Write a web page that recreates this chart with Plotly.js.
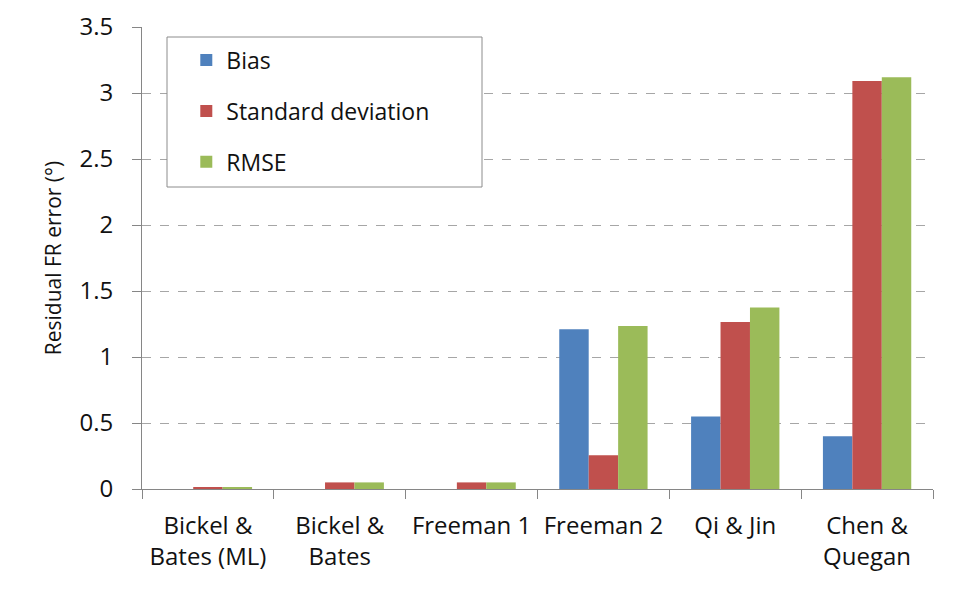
<!DOCTYPE html>
<html><head><meta charset="utf-8">
<script src="https://cdn.plot.ly/plotly-3.0.1.min.js"></script>
<style>html,body{margin:0;padding:0;background:#fff}</style>
</head><body>
<div id="chart" style="width:968px;height:591px"></div>
<script>
var categories = ["Bickel &<br>Bates (ML)", "Bickel &<br>Bates", "Freeman 1", "Freeman 2", "Qi & Jin", "Chen &<br>Quegan"];
var bias = [0, 0, 0, 1.21, 0.55, 0.40];
var stdDev = [0.015, 0.05, 0.05, 0.255, 1.265, 3.09];
var rmse = [0.015, 0.05, 0.05, 1.235, 1.375, 3.12];
var seriesNames = ["Bias", "Standard deviation", "RMSE"];
var yTicks = [0, 0.5, 1, 1.5, 2, 2.5, 3, 3.5];
var yTickText = ["0", "0.5", "1", "1.5", "2", "2.5", "3", "3.5"];

var colors = ["#4F81BD", "#C0504D", "#9BBB59"];
var vals = [bias, stdDev, rmse];
var traces = vals.map(function(v, i){
  return {type:"bar", x:categories, y:v, name:seriesNames[i], legendgroup:"g"+i,
    marker:{color:colors[i], line:{width:0}}};
});
var font = "Open Sans, Noto Sans, sans-serif";
var txt = "#111111";
var layout = {
  width:968, height:591,
  margin:{l:142, r:35, t:27, b:102},
  paper_bgcolor:"#fff", plot_bgcolor:"#fff",
  barmode:"group", bargap:0.33, bargroupgap:0,
  font:{family:font, size:23, color:txt},
  showlegend:true,
  legend:{x:0.056, y:0.975, xanchor:"left", yanchor:"top", bgcolor:"rgba(0,0,0,0)",
    borderwidth:0, font:{family:font, size:23, color:txt},
    traceorder:"grouped", tracegroupgap:18, itemwidth:30},
  shapes:[{type:"rect", xref:"paper", yref:"paper",
    x0:(167-142)/791, x1:(482-142)/791, y0:(489-187)/462, y1:(489-37)/462,
    line:{color:"#8c8c8c", width:1}, fillcolor:"#fff", layer:"above"}],
  xaxis:{type:"category", tickson:"boundaries", ticks:"outside", ticklen:9,
    tickcolor:"#868686", showline:true, linecolor:"#868686", linewidth:1,
    showgrid:false, ticklabelstandoff:15,
    tickfont:{family:font, size:24, color:txt}, automargin:false},
  yaxis:{range:[0,3.5], tickvals:yTicks, ticktext:yTickText, ticks:"outside", ticklen:9,
    tickcolor:"#868686", showline:true, linecolor:"#868686", linewidth:1,
    showgrid:true, gridcolor:"#a6a6a6", griddash:"dash", gridwidth:1, zeroline:false,
    ticklabelstandoff:14,
    tickfont:{family:font, size:24, color:txt},
    title:{text:"Residual FR error (°)", font:{family:font, size:21, color:txt}, standoff:12},
    automargin:false}
};
Plotly.newPlot("chart", traces, layout, {displayModeBar:false, staticPlot:true});
</script>
</body></html>
